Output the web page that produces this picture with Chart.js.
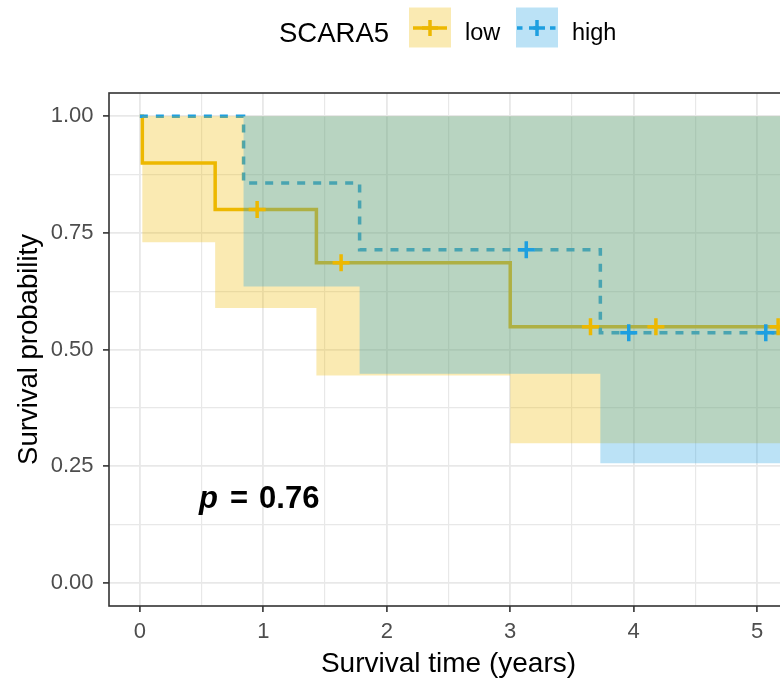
<!DOCTYPE html>
<html>
<head>
<meta charset="utf-8">
<script src="https://cdn.jsdelivr.net/npm/chart.js@4.4.0/dist/chart.umd.min.js"></script>
<style>
  html, body { margin: 0; padding: 0; background: #fff; overflow: hidden; }
  #wrap { width: 780px; height: 684px; overflow: hidden; }
</style>
</head>
<body>
<div id="wrap"><canvas id="km" width="800" height="684"></canvas></div>
<script>
// Kaplan-Meier curves (time in years)
const lowTime = [0, 0.02, 0.61, 1.43, 3.0, 5.3];
const lowSurv = [1, 0.9, 0.8, 0.686, 0.549, 0.549];
const lowUpper = [1, 1, 1, 1, 1, 1];
const lowLower = [1, 0.73, 0.589, 0.444, 0.299, 0.299];
const lowCensorTime = [0.95, 1.63, 3.65, 4.18, 5.17];
const lowCensorSurv = [0.8, 0.686, 0.549, 0.549, 0.549];

const highTime = [0, 0.84, 1.78, 3.73, 5.3];
const highSurv = [1, 0.857, 0.714, 0.536, 0.536];
const highUpper = [1, 1, 1, 1, 1];
const highLower = [1, 0.635, 0.448, 0.256, 0.256];
const highCensorTime = [3.13, 3.96, 5.07];
const highCensorSurv = [0.714, 0.536, 0.536];

const groups = ['low', 'high'];
const legendTitle = 'SCARA5';
const pValue = '0.76';
const xTicks = [0, 1, 2, 3, 4, 5];
const yTicks = [0, 0.25, 0.5, 0.75, 1];

const lowColor = '#EDB800';
const highColor = '#1E9FE0';
const lowFill = 'rgba(237,184,0,0.3)';
const highFill = 'rgba(30,159,224,0.3)';
const FONT = "'Liberation Sans', Arial, sans-serif";

Chart.defaults.font.family = FONT;

const pts = (xs, ys) => xs.map((x, i) => ({ x: x, y: ys[i] }));

// majors plus the midpoints between them (ggplot minor grid)
const withMinor = (major) => {
  const out = [];
  major.forEach((v, i) => {
    out.push(v);
    if (i < major.length - 1) out.push((v + major[i + 1]) / 2);
  });
  return out;
};

const gridFor = (major) => ({
  color: '#E8E8E8',
  lineWidth: (c) => (c.tick && major.includes(c.tick.value) ? 1.8 : 1.2),
  tickColor: (c) => (c.tick && major.includes(c.tick.value) ? '#333333' : 'rgba(0,0,0,0)'),
  tickLength: 6,
  tickWidth: 1.6,
  drawTicks: true
});

const kmPlugin = {
  id: 'kmDecor',
  afterDatasetsDraw(chart) {
    const { ctx, chartArea } = chart;
    ctx.save();
    ctx.strokeStyle = '#333333';
    ctx.lineWidth = 1.6;
    ctx.strokeRect(chartArea.left, chartArea.top, chartArea.right - chartArea.left, chartArea.bottom - chartArea.top);
    ctx.restore();
  },
  afterDraw(chart) {
    const ctx = chart.ctx;
    const xs = chart.scales.x, ys = chart.scales.y;
    ctx.save();

    // p-value annotation
    const px = xs.getPixelForValue(0.48), py = ys.getPixelForValue(0.16);
    ctx.fillStyle = '#000';
    ctx.textBaseline = 'alphabetic';
    ctx.textAlign = 'left';
    ctx.font = 'italic bold 31px ' + FONT;
    ctx.fillText('p', px, py);
    ctx.font = 'bold 31px ' + FONT;
    ctx.fillText('=', px + 31, py);
    ctx.fillText(pValue, px + 60, py);

    // legend on top
    ctx.font = '27.5px ' + FONT;
    ctx.fillText(legendTitle, 279, 42);

    const drawKey = (x0, color, fill, dashed) => {
      ctx.fillStyle = fill;
      ctx.fillRect(x0, 7.5, 42, 40);
      ctx.strokeStyle = color;
      ctx.lineWidth = 3.5;
      ctx.beginPath();
      if (dashed) {
        ctx.setLineDash([5.5, 11]);
        ctx.moveTo(x0 + 1, 28);
        ctx.lineTo(x0 + 41, 28);
      } else {
        ctx.moveTo(x0 + 4, 28);
        ctx.lineTo(x0 + 38, 28);
      }
      ctx.stroke();
      ctx.setLineDash([]);
      ctx.beginPath();
      ctx.moveTo(x0 + 21, 20);
      ctx.lineTo(x0 + 21, 36);
      ctx.moveTo(x0 + 13, 28);
      ctx.lineTo(x0 + 29, 28);
      ctx.stroke();
    };
    drawKey(409, lowColor, lowFill, false);
    drawKey(516, highColor, highFill, true);

    ctx.fillStyle = '#000';
    ctx.font = '23.5px ' + FONT;
    ctx.fillText(groups[0], 465, 40);
    ctx.fillText(groups[1], 572, 40);
    ctx.restore();
  }
};

const ribbonLine = (data, fill, bg, order) => ({
  data: data,
  stepped: 'before',
  borderColor: 'rgba(0,0,0,0)',
  borderWidth: 0,
  pointRadius: 0,
  fill: fill,
  backgroundColor: bg,
  order: order
});

new Chart(document.getElementById('km'), {
  type: 'line',
  data: {
    datasets: [
      { data: pts(lowTime, lowSurv), stepped: 'before', borderColor: lowColor, borderWidth: 3.5, pointRadius: 0, fill: false, order: 10 },
      { data: pts(highTime, highSurv), stepped: 'before', borderColor: highColor, borderWidth: 3.5, borderDash: [8, 8], pointRadius: 0, fill: false, order: 9 },
      ribbonLine(pts(lowTime, lowUpper), false, lowFill, 8),
      ribbonLine(pts(lowTime, lowLower), '-1', lowFill, 8),
      ribbonLine(pts(highTime, highUpper), false, highFill, 7),
      ribbonLine(pts(highTime, highLower), '-1', highFill, 7),
      { type: 'scatter', data: pts(lowCensorTime, lowCensorSurv), pointStyle: 'cross', pointRadius: 8.5, pointBorderWidth: 3.5, borderColor: lowColor, order: 2 },
      { type: 'scatter', data: pts(highCensorTime, highCensorSurv), pointStyle: 'cross', pointRadius: 8.5, pointBorderWidth: 3.5, borderColor: highColor, order: 1 }
    ]
  },
  options: {
    responsive: false,
    animation: false,
    devicePixelRatio: 1,
    events: [],
    layout: { padding: { top: 93, left: 0, right: 12, bottom: 0 } },
    plugins: { legend: { display: false }, tooltip: { enabled: false } },
    scales: {
      x: {
        type: 'linear',
        min: -0.25,
        max: 5.25,
        afterBuildTicks: (s) => { s.ticks = withMinor(xTicks).map((v) => ({ value: v })); },
        afterFit: (s) => { s.height = 78; },
        ticks: {
          autoSkip: false,
          maxRotation: 0,
          padding: 7,
          color: '#4D4D4D',
          font: { size: 22 },
          callback: (v) => (xTicks.includes(v) ? String(v) : '')
        },
        grid: gridFor(xTicks),
        border: { display: false },
        title: {
          display: true,
          text: 'Survival time (years)',
          color: '#000',
          font: { size: 28, lineHeight: 1.2 },
          padding: { top: 0, bottom: 3 }
        }
      },
      y: {
        type: 'linear',
        min: -0.05,
        max: 1.05,
        afterBuildTicks: (s) => { s.ticks = withMinor(yTicks).map((v) => ({ value: v })); },
        afterFit: (s) => { s.width = 109; },
        ticks: {
          autoSkip: false,
          padding: 9.5,
          color: '#4D4D4D',
          font: { size: 22 },
          callback: (v) => (yTicks.includes(v) ? v.toFixed(2) : '')
        },
        grid: gridFor(yTicks),
        border: { display: false },
        title: {
          display: true,
          text: 'Survival probability',
          color: '#000',
          font: { size: 27.5, lineHeight: 1.2 },
          padding: { top: 12.5, bottom: 0 }
        }
      }
    }
  },
  plugins: [kmPlugin]
});
</script>
</body>
</html>
